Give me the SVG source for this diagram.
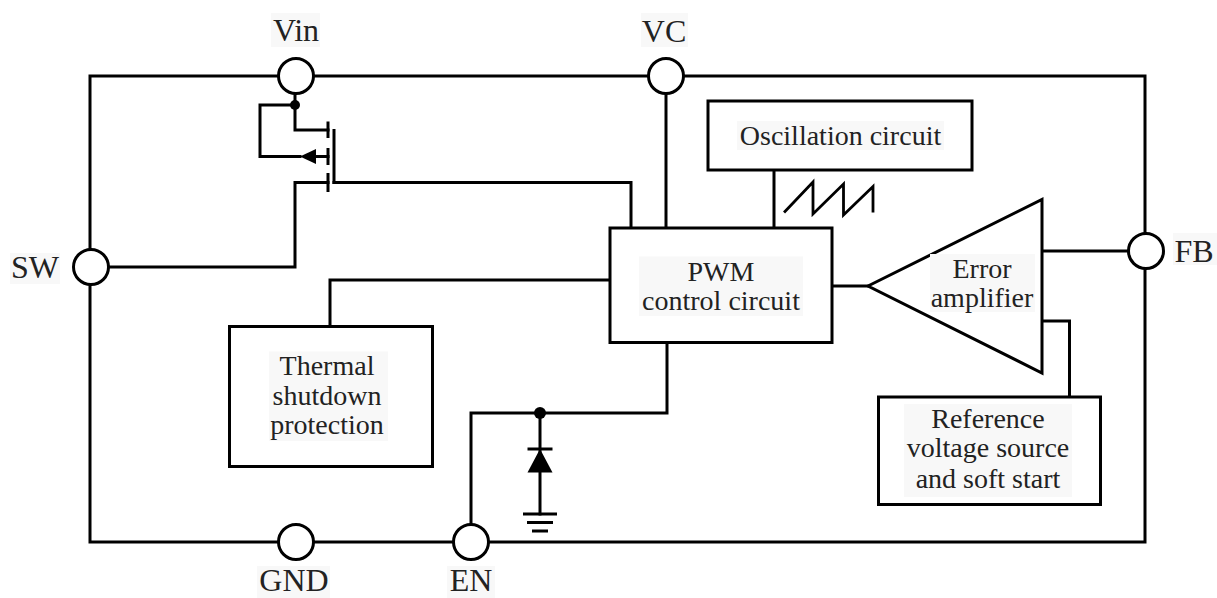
<svg xmlns="http://www.w3.org/2000/svg" width="1217" height="598" viewBox="0 0 1217 598">
<style>
.w{fill:none;stroke:#000;stroke-width:3;stroke-linecap:square;stroke-linejoin:miter}
.box{fill:#fff;stroke:#000;stroke-width:3}
.pin{fill:#fff;stroke:#000;stroke-width:3}
.bg{fill:#f8f8f8;stroke:none}
.t{font-family:"Liberation Serif","Times New Roman",serif;font-size:28px;fill:#222;text-anchor:middle}
.p{font-family:"Liberation Serif","Times New Roman",serif;font-size:32px;fill:#222;text-anchor:middle}
.f{fill:#000;stroke:none}
</style>
<rect width="1217" height="598" fill="#fff"/>
<g id="connectors">
<rect x="90" y="76" width="1055" height="466" class="w"/>
<path class="w" d="M295,93 V130 H328"/>
<path class="w" d="M295,105 H260 V156.5 H300"/>
<path class="w" d="M316,156.5 H328"/>
<path class="w" d="M328,182.5 H295 V267 H108"/>
<path class="w" d="M334,182.5 H631 V228"/>
<path class="w" d="M666,93 V228"/>
<path class="w" d="M774,170 V228"/>
<path class="w" d="M330,326.5 V280 H610"/>
<path class="w" d="M832,286 H868"/>
<path class="w" d="M1042,251 H1128"/>
<path class="w" d="M1042,321 H1069.5 V397"/>
<path class="w" d="M667,342.5 V413 H471 V524"/>
<path class="w" d="M540,413 V514"/>
<path class="w" style="stroke-linecap:butt" d="M523,514 H557 M527,522.5 H553 M532,531 H548"/>
<circle class="f" cx="295" cy="105" r="5"/>
<circle class="f" cx="540" cy="413" r="6"/>
</g>
<g id="mosfet">
<path class="w" style="stroke-linecap:butt" d="M328,121.5 V138 M328,148 V165 M328,173 V192"/>
<path class="w" style="stroke-linecap:butt" d="M334,129 V184"/>
<polygon class="f" points="300,156.5 316,149 316,164"/>
</g>
<g id="diode">
<path class="w" style="stroke-linecap:butt" d="M527.5,449 H552.5"/>
<polygon class="f" points="540,449 527.5,472.5 552.5,472.5"/>
</g>
<g id="pin-vin"><circle class="pin" cx="296" cy="76" r="17.5"/><rect class="bg" x="271" y="13" width="49" height="34"/><text class="p" x="296" y="40.5">Vin</text></g>
<g id="pin-vc"><circle class="pin" cx="666" cy="76" r="17.5"/><rect class="bg" x="641" y="13" width="47" height="34"/><text class="p" x="664" y="41.5">VC</text></g>
<g id="pin-sw"><circle class="pin" cx="91" cy="267" r="17.5"/><rect class="bg" x="10" y="253" width="50" height="31"/><text class="p" x="35" y="278">SW</text></g>
<g id="pin-fb"><circle class="pin" cx="1146" cy="251" r="17.5"/><rect class="bg" x="1173" y="233" width="44" height="32"/><text class="p" x="1194" y="261.5">FB</text></g>
<g id="pin-gnd"><circle class="pin" cx="296" cy="542" r="17.5"/><rect class="bg" x="257" y="566" width="73" height="32"/><text class="p" x="294" y="591">GND</text></g>
<g id="pin-en"><circle class="pin" cx="471" cy="542" r="17.5"/><rect class="bg" x="447" y="566" width="48" height="32"/><text class="p" x="471" y="591">EN</text></g>
<g id="oscillation">
<rect class="box" x="708" y="101" width="264" height="69"/>
<rect class="bg" x="737" y="121" width="207" height="29"/>
<text class="t" x="840.5" y="145">Oscillation circuit</text>
<path class="w" style="stroke-width:2.8" d="M785,211.5 L813,182 V214 L843.5,184 V215 L873,186.5 V211"/>
</g>
<g id="pwm">
<rect class="box" x="610" y="228" width="222" height="114.5"/>
<rect class="bg" x="639" y="256.5" width="164" height="59.5"/>
<text class="t" x="721" y="280.5">PWM</text>
<text class="t" x="721" y="310">control circuit</text>
</g>
<g id="error-amplifier">
<polygon class="box" points="868,286 1042,199.5 1042,373"/>
<rect class="bg" x="930" y="254" width="105" height="58"/>
<text class="t" x="982" y="278.3">Error</text>
<text class="t" x="982" y="306.7">amplifier</text>
</g>
<g id="thermal">
<rect class="box" x="229.5" y="326.5" width="203" height="140"/>
<rect class="bg" x="269" y="351.5" width="119" height="89.5"/>
<text class="t" x="327" y="375">Thermal</text>
<text class="t" x="327" y="404.5">shutdown</text>
<text class="t" x="327" y="433.5">protection</text>
</g>
<g id="reference">
<rect class="box" x="878.5" y="397" width="222" height="107.5"/>
<rect class="bg" x="904" y="404" width="168" height="93"/>
<text class="t" x="988" y="427.5">Reference</text>
<text class="t" x="988" y="457">voltage source</text>
<text class="t" x="988" y="487.5">and soft start</text>
</g>
</svg>
